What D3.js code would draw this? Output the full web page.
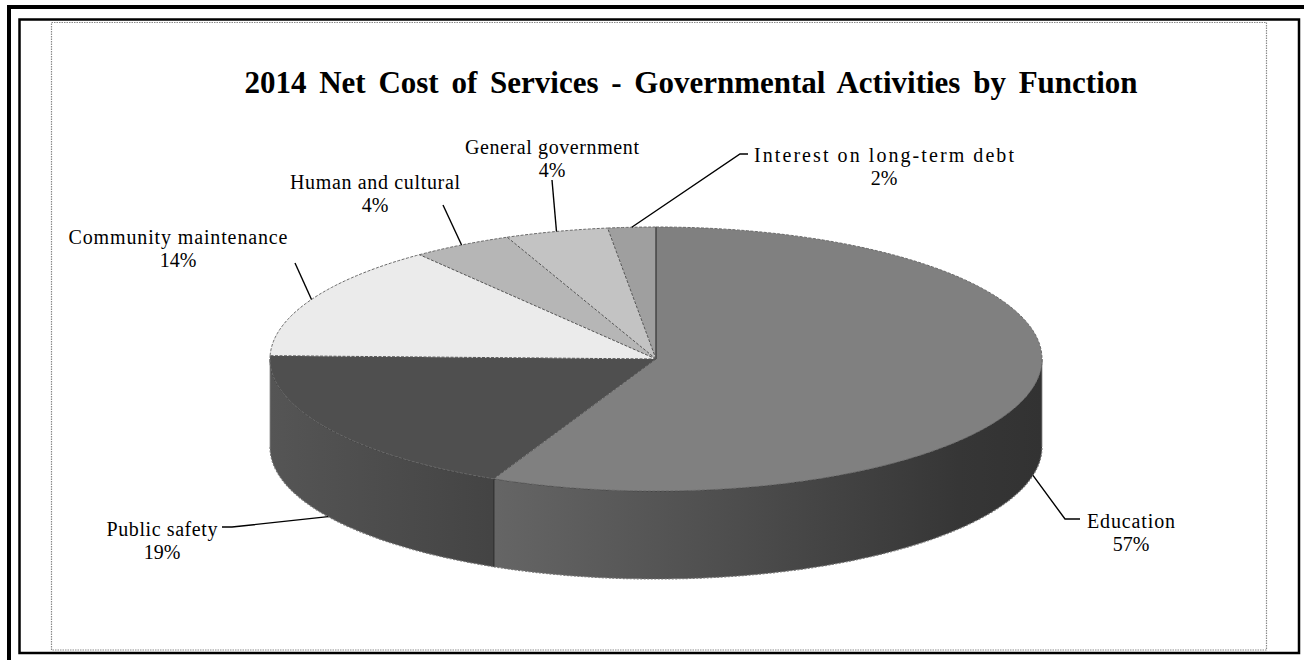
<!DOCTYPE html>
<html>
<head>
<meta charset="utf-8">
<script src="https://cdn.jsdelivr.net/npm/d3@7"></script>
<style>
  html, body { margin: 0; padding: 0; background: #ffffff; }
  svg { display: block; }
  text { font-family: "Liberation Serif", "Times New Roman", serif; fill: #000; }
</style>
</head>
<body>
<svg id="chart" width="1304" height="660"></svg>
<script>
// ---- data ----
const title = "2014 Net Cost of Services - Governmental Activities by Function";
const categories = ["Education", "Public safety", "Community maintenance", "Human and cultural", "General government", "Interest on long-term debt"];
const values = [56.9, 18.5, 14.1, 4.2, 4.3, 2.0];
const percentLabels = ["57%", "19%", "14%", "4%", "4%", "2%"];

// ---- styles ----
const topColors = ["#808080", "#4f4f4f", "#ebebeb", "#b6b6b6", "#c3c3c3", "#9f9f9f"];

// ---- layout ----
const W = 1304, H = 660;
const cx = 656, cy = 359, rx = 386, ry = 132, depth = 88;
const labelLayout = [
  { x: 1131, y: 521, elbow: [1065, 519], stub: [1080, 519], useBottom: true, w: 88 },
  { x: 162, y: 529, elbow: [232, 527], stub: [222, 527], useBottom: true, w: 111 },
  { x: 178, y: 237, elbow: [295, 263], w: 219 },
  { x: 375, y: 182, elbow: [443, 205], w: 170 },
  { x: 552, y: 147, elbow: [552, 180], w: 174 },
  { x: 884, y: 155, elbow: [740, 154], stub: [748, 154], w: 260 }
];

const svg = d3.select("#chart");

// frames
svg.append("rect").attr("x", 9).attr("y", 7).attr("width", 1400).attr("height", 1000)
  .attr("fill", "none").attr("stroke", "#000").attr("stroke-width", 4);
svg.append("rect").attr("x", 19.5).attr("y", 19.5).attr("width", 1279.5).attr("height", 633.5)
  .attr("fill", "#fff").attr("stroke", "#000").attr("stroke-width", 2.5);
svg.append("rect").attr("x", 51.5).attr("y", 22.5).attr("width", 1215).attr("height", 627.5)
  .attr("fill", "#fff").attr("stroke", "#8a8a8a").attr("stroke-width", 1.2)
  .attr("stroke-dasharray", "1.5,1");

// title
svg.append("text").attr("x", 691).attr("y", 93).attr("text-anchor", "middle")
  .attr("font-size", 31).attr("font-weight", "bold").attr("word-spacing", 5).text(title);

// scales
const pie = d3.pie().sort(null).value(d => d).startAngle(0).endAngle(2 * Math.PI);
const arcs = pie(values);
const sx = d3.scaleLinear().domain([-1, 1]).range([cx - rx, cx + rx]);
const sy = d3.scaleLinear().domain([-1, 1]).range([cy + ry, cy - ry]);
const pt = (a, dz = 0) => [sx(Math.sin(a)), sy(Math.cos(a)) + dz];

function arcPoints(a0, a1, dz) {
  const n = Math.max(2, Math.ceil(Math.abs(a1 - a0) / 0.01));
  return d3.range(n + 1).map(i => pt(a0 + (a1 - a0) * i / n, dz));
}

// gradients
const defs = svg.append("defs");
const g1 = defs.append("linearGradient").attr("id", "gEdu").attr("gradientUnits", "userSpaceOnUse")
  .attr("x1", 487).attr("x2", cx + rx).attr("y1", 0).attr("y2", 0);
g1.append("stop").attr("offset", 0).attr("stop-color", "#666666");
g1.append("stop").attr("offset", 0.45).attr("stop-color", "#4d4d4d");
g1.append("stop").attr("offset", 0.85).attr("stop-color", "#363636");
g1.append("stop").attr("offset", 1).attr("stop-color", "#323232");
const g2 = defs.append("linearGradient").attr("id", "gPub").attr("gradientUnits", "userSpaceOnUse")
  .attr("x1", cx - rx).attr("x2", 490).attr("y1", 0).attr("y2", 0);
g2.append("stop").attr("offset", 0).attr("stop-color", "#555555");
g2.append("stop").attr("offset", 1).attr("stop-color", "#444444");
const sideFills = ["url(#gEdu)", "url(#gPub)", "#cfcfcf", "#9c9c9c", "#a8a8a8", "#888"];

const line = d3.line();
const pieG = svg.append("g");

// side walls (front half only)
arcs.forEach((d, i) => {
  const a0 = Math.max(d.startAngle, Math.PI / 2);
  const a1 = Math.min(d.endAngle, 3 * Math.PI / 2);
  if (a1 <= a0) return;
  const top = arcPoints(a0, a1, 0);
  const bot = arcPoints(a1, a0, depth);
  pieG.append("path").attr("d", line(top.concat(bot)) + "Z")
    .attr("fill", sideFills[i]).attr("stroke", "none");
  pieG.append("path").attr("d", line(top)).attr("fill", "none")
    .attr("stroke", "#2e2e2e").attr("stroke-width", 0.9);
  pieG.append("path").attr("d", line(bot)).attr("fill", "none")
    .attr("stroke", "#777").attr("stroke-width", 1.2).attr("stroke-dasharray", "2,1.5");
});
// vertical edges of the side
[arcs[0].endAngle, Math.PI / 2, 3 * Math.PI / 2].forEach((a, k) => {
  const p = pt(a, 0), q = pt(a, depth);
  pieG.append("line").attr("x1", p[0]).attr("y1", p[1]).attr("x2", q[0]).attr("y2", q[1])
    .attr("stroke", k === 0 ? "#222" : "#888").attr("stroke-width", k === 0 ? 1 : 0.8);
});

// top faces
arcs.forEach((d, i) => {
  const pts = [[cx, cy]].concat(arcPoints(d.startAngle, d.endAngle, 0));
  pieG.append("path").attr("d", line(pts) + "Z")
    .attr("fill", topColors[i]).attr("stroke", "none");
});
// slice separators and outline
arcs.forEach((d, i) => {
  const p = pt(d.startAngle, 0);
  pieG.append("line").attr("x1", cx).attr("y1", cy).attr("x2", p[0]).attr("y2", p[1])
    .attr("stroke", i === 0 ? "#333" : "#555").attr("stroke-width", i === 0 ? 1.2 : 1)
    .attr("stroke-dasharray", i === 0 ? null : "3,1.5");
  const back = arcPoints(d.startAngle, d.endAngle, 0);
  pieG.append("path").attr("d", line(back)).attr("fill", "none")
    .attr("stroke", "#6a6a6a").attr("stroke-width", 1).attr("stroke-dasharray", "3,1.5");
});

// labels & leaders
const labelG = svg.append("g");
arcs.forEach((d, i) => {
  const L = labelLayout[i];
  const mid = (d.startAngle + d.endAngle) / 2;
  const start = pt(mid, L.useBottom ? depth : 0);
  const pts = [start, L.elbow];
  if (L.stub) pts.push(L.stub);
  labelG.append("path").attr("d", line(pts)).attr("fill", "none")
    .attr("stroke", "#000").attr("stroke-width", 1.4);
  const t = labelG.append("text").attr("x", L.x).attr("y", L.y)
    .attr("text-anchor", "middle").attr("font-size", 20).attr("dominant-baseline", "central");
  const s1 = t.append("tspan").attr("x", L.x).attr("dy", 0).text(categories[i]);
  if (L.w) s1.attr("textLength", L.w).attr("lengthAdjust", "spacing");
  t.append("tspan").attr("x", L.x).attr("dy", 23).text(percentLabels[i]);
});
</script>
</body>
</html>
